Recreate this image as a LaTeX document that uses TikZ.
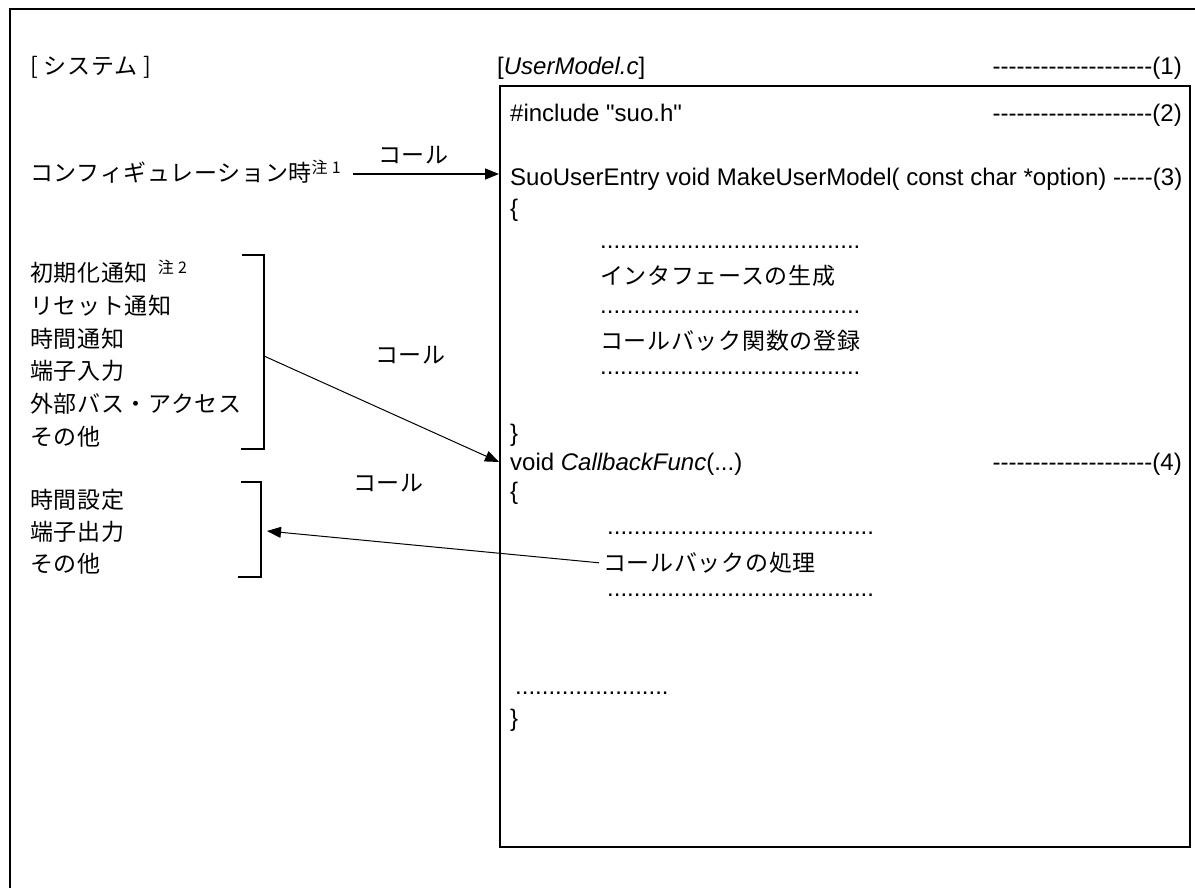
\documentclass[tikz,border=0pt]{standalone}
\usepackage{fontspec}
\setmainfont{Liberation Sans}[Ligatures=TeXOff]
\newfontfamily\jp{Noto Sans CJK JP}[LetterSpace=3]
\usetikzlibrary{arrows.meta}
\newcommand\tendots{..........}
\tikzset{
  txt/.style={inner sep=0pt, anchor=base west, font=\fontsize{24}{28}\selectfont},
  rtxt/.style={inner sep=0pt, anchor=base east, font=\fontsize{24}{28}\selectfont},
  jtxt/.style={inner sep=0pt, anchor=base west, font=\jp\fontsize{23}{28}\selectfont},
  frameline/.style={line width=1.8pt},
  bracketline/.style={line width=2pt},
  conn/.style={line width=1pt, -{Triangle[length=14pt,width=11pt]}},
}
\begin{document}
\begin{tikzpicture}[x=1pt,y=-1pt]
\fill[white] (0,0) rectangle (1195,888);
\useasboundingbox (0,0) rectangle (1195,888);
% outer frame (runs off the page at right and bottom)
\draw[frameline] (10,888) -- (10,9) -- (1195,9);
% source file box
\node[draw, line width=2pt, minimum width=690pt, minimum height=761pt, anchor=north west, inner sep=0pt] (box) at (499,85) {};

% headings
\node[jtxt] (sys) at (30,74.5) {[ システム ]};
\node[txt] (fname) at (497,75) {[\textit{UserModel.c}]};
\node[rtxt] (n1) at (1182,74.5) {--------------------(1)};

% code lines
\node[txt] (inc) at (510,121.5) {\#include "suo.h"};
\node[rtxt] (n2) at (1182,121.5) {--------------------(2)};
\node[txt] (entry) at (510,185.5) {SuoUserEntry void MakeUserModel( const char *option) -----(3)};
\node[txt] (ob1) at (510,216) {\{};
\node[txt] (d1) at (600,248) {\tendots\tendots\tendots.........};
\node[jtxt] (mkif) at (600,284) {インタフェースの生成};
\node[txt] (d2) at (600,313) {\tendots\tendots\tendots.........};
\node[jtxt] (reg) at (600,349) {コールバック関数の登録};
\node[txt] (d3) at (600,374) {\tendots\tendots\tendots.........};
\node[txt] (cb1) at (510,441) {\}};
\node[txt] (cbf) at (510,470.5) {void \textit{CallbackFunc}(...)};
\node[rtxt] (n4) at (1182,470.5) {--------------------(4)};
\node[txt] (ob2) at (510,499) {\{};
\node[txt] (d4) at (607,534) {\tendots\tendots\tendots\tendots};
\node[jtxt] (proc) at (603,571.5) {コールバックの処理};
\node[txt] (d5) at (607,596) {\tendots\tendots\tendots\tendots};
\node[txt] (d6) at (515,694) {\tendots\tendots...};
\node[txt] (cb2) at (510,726) {\}};

% system side
\node[jtxt] (cfg) at (30,182) {コンフィギュレーション時\raisebox{8pt}{\fontsize{16}{16}\selectfont 注 1}};
\node[jtxt] (call1) at (378,163.5) {コール};

\node[jtxt] (l1) at (30,281.5) {初期化通知\hspace{10pt}\raisebox{8pt}{\fontsize{16}{16}\selectfont 注 2}};
\node[jtxt] (l2) at (30,314.5) {リセット通知};
\node[jtxt] (l3) at (30,347.5) {時間通知};
\node[jtxt] (l4) at (30,379.5) {端子入力};
\node[jtxt] (l5) at (30,412.5) {外部バス・アクセス};
\node[jtxt] (l6) at (30,445.5) {その他};
\node[jtxt] (call2) at (375,363.5) {コール};

\node[jtxt] (m1) at (30,508.5) {時間設定};
\node[jtxt] (m2) at (30,540.5) {端子出力};
\node[jtxt] (m3) at (30,572.5) {その他};
\node[jtxt] (call3) at (353,491.5) {コール};

% brackets
\draw[bracketline] (242,255) -- (264,255) -- (264,449) -- (241,449);
\draw[bracketline] (241,482) -- (261,482) -- (261,577) -- (238,577);

% connector end points
\coordinate (a1s) at (353,174);
\coordinate (b1m) at (264,356);
\coordinate (cbin) at (499,462);
\coordinate (b2m) at (267,531);

% connectors
\draw[conn, line width=1.5pt] (a1s) -- (box.west |- a1s);
\draw[conn] (b1m) -- (cbin);
\draw[conn] ([xshift=-4pt]proc.west) -- (b2m);
\end{tikzpicture}
\end{document}
